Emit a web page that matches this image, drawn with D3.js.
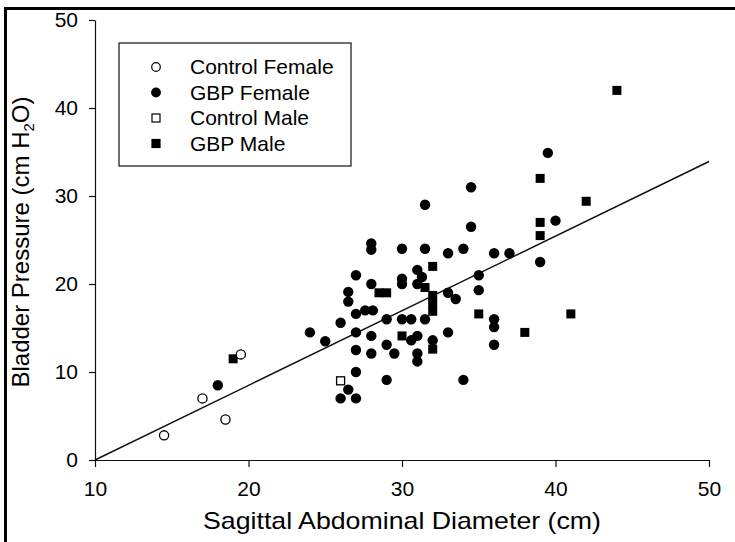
<!DOCTYPE html>
<html>
<head>
<meta charset="utf-8">
<script src="https://cdn.jsdelivr.net/npm/d3@7"></script>
<style>
  body { margin: 0; background: #fff; }
  svg { display: block; font-family: "Liberation Sans", Arial, sans-serif; }
  .axis path, .axis line { stroke: #111; stroke-width: 1.2px; }
  .axis text { font-size: 21px; fill: #000; }
</style>
</head>
<body>
<div id="chart"></div>
<script>
// values: [diameter cm, pressure cm H2O]
var controlFemale = [[14.5, 2.8], [17, 7], [18.5, 4.6], [19.5, 12]];

var gbpFemale = [
  [18, 8.5],
  [24, 14.5], [25, 13.5], [26, 15.6], [26, 7], [26.5, 8], [26.5, 19.1], [26.5, 18],
  [27, 21], [27, 16.6], [27, 14.5], [27, 12.5], [27, 10], [27, 7],
  [27.6, 17], [28.1, 17], [28, 24.6], [28, 23.9], [28, 20], [28, 14.1], [28, 12.1],
  [29, 16], [29, 13.1], [29, 9.1], [29.5, 12.1],
  [30, 24], [30, 20.6], [30, 20], [30, 16], [30.6, 16], [30.6, 13.6],
  [31, 14.1], [31, 12.1], [31, 11.2], [31, 21.6], [31.3, 20.8], [31, 20],
  [31.5, 29], [31.5, 24], [31.5, 16],
  [32, 13.6],
  [33, 23.5], [33, 19], [33.5, 18.3], [33, 14.5],
  [34, 24], [34, 9.1], [34.5, 31], [34.5, 26.5],
  [35, 21], [35, 19.3],
  [36, 23.5], [37, 23.5], [36, 16], [36, 15.1], [36, 13.1],
  [39, 22.5], [39.5, 34.9], [40, 27.2]
];

var controlMale = [[26, 9]];

var gbpMale = [
  [19, 11.5], [28.5, 19], [29, 19], [30, 14.1], [31.5, 19.6], [32, 22],
  [32, 18.7], [32, 17.8], [32, 16.9], [32, 12.6], [35, 16.6], [38, 14.5],
  [39, 32], [39, 27], [39, 25.5], [41, 16.6], [42, 29.4], [44, 42]
];

// regression line
var fitSlope = 0.848, fitIntercept = -8.48;
var fitRange = [10, 50];

var xTicks = [10, 20, 30, 40, 50];
var yTicks = [0, 10, 20, 30, 40, 50];

var legendLabels = ["Control Female", "GBP Female", "Control Male", "GBP Male"];

var margin = { top: 20, left: 95 },
    width = 614,
    height = 440;

var svg = d3.select("#chart").append("svg")
    .attr("width", 735)
    .attr("height", 542);

// scanned frame edge (left and top)
svg.append("path")
    .attr("d", "M5.5,542V8.5H735")
    .attr("fill", "none")
    .attr("stroke", "#000")
    .attr("stroke-width", 3);

var g = svg.append("g")
    .attr("transform", "translate(" + margin.left + "," + margin.top + ")");

var x = d3.scaleLinear().domain([10, 50]).range([0, width]);
var y = d3.scaleLinear().domain([0, 50]).range([height, 0]);

g.append("g")
    .attr("class", "axis")
    .attr("transform", "translate(0," + height + ")")
    .call(d3.axisBottom(x).tickValues(xTicks).tickSize(7).tickSizeOuter(0).tickPadding(14));

g.append("g")
    .attr("class", "axis")
    .call(d3.axisLeft(y).tickValues(yTicks).tickSize(6).tickSizeOuter(0).tickPadding(11));

// fit line
g.append("line")
    .attr("x1", x(fitRange[0])).attr("y1", y(fitSlope * fitRange[0] + fitIntercept))
    .attr("x2", x(fitRange[1])).attr("y2", y(fitSlope * fitRange[1] + fitIntercept))
    .attr("stroke", "#111")
    .attr("stroke-width", 1.5);

var r = 5.2, sq = 9;

g.selectAll(".gf").data(gbpFemale).enter().append("circle")
    .attr("class", "gf")
    .attr("cx", function(d) { return x(d[0]); })
    .attr("cy", function(d) { return y(d[1]); })
    .attr("r", r)
    .attr("fill", "#000");

g.selectAll(".gm").data(gbpMale).enter().append("rect")
    .attr("class", "gm")
    .attr("x", function(d) { return x(d[0]) - sq / 2; })
    .attr("y", function(d) { return y(d[1]) - sq / 2; })
    .attr("width", sq).attr("height", sq)
    .attr("fill", "#000");

g.selectAll(".cf").data(controlFemale).enter().append("circle")
    .attr("class", "cf")
    .attr("cx", function(d) { return x(d[0]); })
    .attr("cy", function(d) { return y(d[1]); })
    .attr("r", r - 0.6)
    .attr("fill", "#fff")
    .attr("stroke", "#000")
    .attr("stroke-width", 1.3);

g.selectAll(".cm").data(controlMale).enter().append("rect")
    .attr("class", "cm")
    .attr("x", function(d) { return x(d[0]) - sq / 2 + 0.5; })
    .attr("y", function(d) { return y(d[1]) - sq / 2 + 0.5; })
    .attr("width", sq - 1).attr("height", sq - 1)
    .attr("fill", "#fff")
    .attr("stroke", "#000")
    .attr("stroke-width", 1.3);

// legend
var legend = svg.append("g").attr("transform", "translate(119,43)");
legend.append("rect")
    .attr("width", 232).attr("height", 123)
    .attr("fill", "#fff")
    .attr("stroke", "#111")
    .attr("stroke-width", 1.2);

legendLabels.forEach(function(label, i) {
  var cy = 24 + i * 25.5;
  var row = legend.append("g").attr("transform", "translate(37," + cy + ")");
  if (i === 0 || i === 1) {
    row.append("circle").attr("r", 4.3)
        .attr("fill", i === 0 ? "#fff" : "#000")
        .attr("stroke", "#000").attr("stroke-width", 1.2);
  } else {
    row.append("rect").attr("x", -4).attr("y", -4).attr("width", 8).attr("height", 8)
        .attr("fill", i === 2 ? "#fff" : "#000")
        .attr("stroke", "#000").attr("stroke-width", 1.2);
  }
  row.append("text")
      .attr("x", 34).attr("y", 7)
      .style("font-size", "21px")
      .text(label);
});

// axis titles
svg.append("text")
    .attr("x", 402).attr("y", 529)
    .attr("text-anchor", "middle")
    .style("font-size", "24px")
    .attr("textLength", 398)
    .attr("lengthAdjust", "spacingAndGlyphs")
    .text("Sagittal Abdominal Diameter (cm)");

var yt = svg.append("text")
    .attr("transform", "translate(29,242) rotate(-90)")
    .attr("text-anchor", "middle")
    .style("font-size", "24px");
yt.append("tspan").text("Bladder Pressure (cm H");
yt.append("tspan").attr("dy", 5).style("font-size", "15px").text("2");
yt.append("tspan").attr("dy", -5).text("O)");
</script>
</body>
</html>
